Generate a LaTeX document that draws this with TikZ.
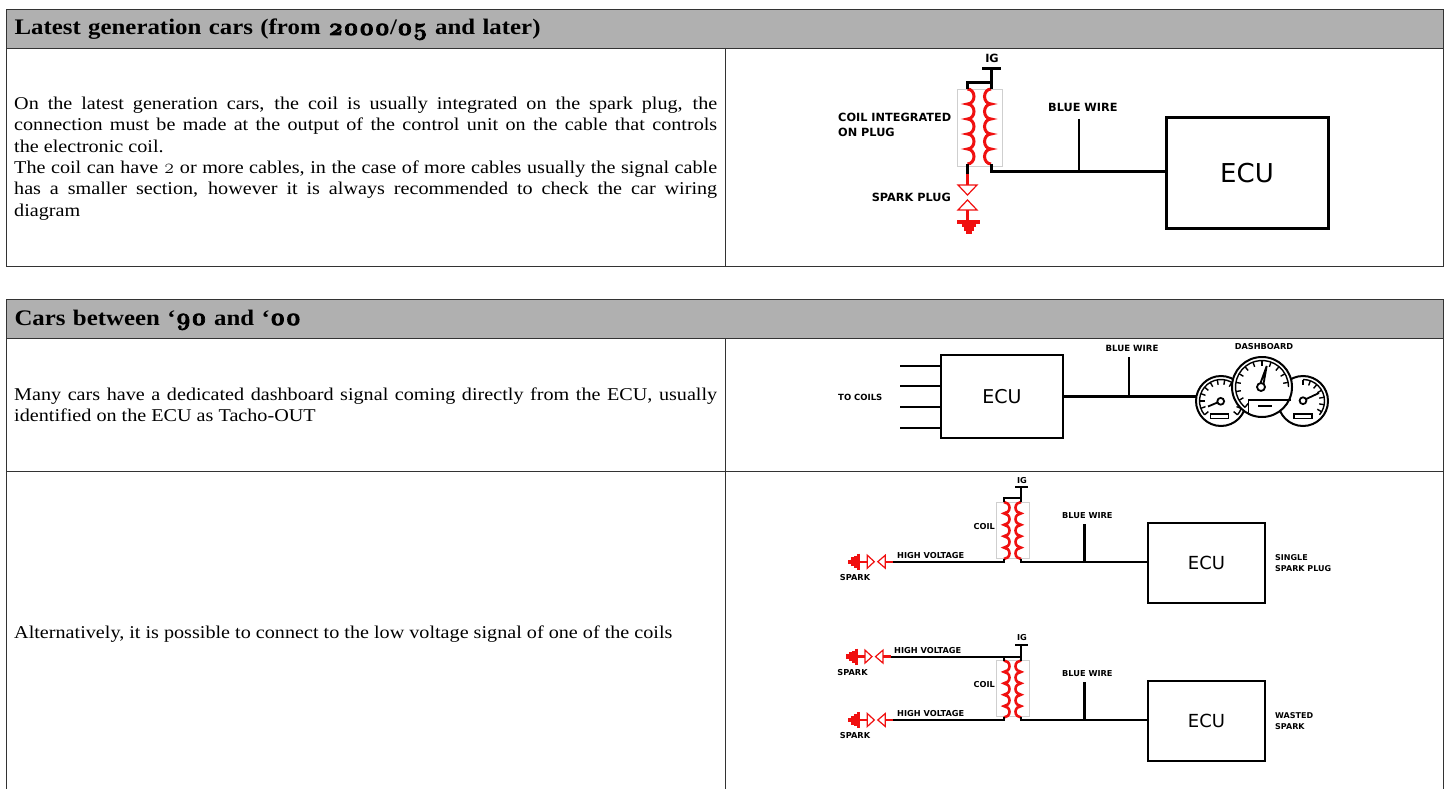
\documentclass[tikz,border=0pt]{standalone}
\usepackage{fontspec}
\setmainfont{Liberation Serif}[FakeStretch=1.12]
\newfontfamily\labelfont{DejaVu Sans}
\newfontfamily\oldnums{Latin Modern Roman}[Numbers=OldStyle,Scale=1.12]
\newfontfamily\oldnumsbold{Latin Modern Roman}[Numbers=OldStyle,Scale=1.1,FakeBold=3]
\usetikzlibrary{calc}

\definecolor{headgray}{HTML}{B0B0B0}
\definecolor{framegray}{HTML}{333333}
\definecolor{coilred}{HTML}{F01010}
\definecolor{boxgray}{HTML}{CFCFCF}

\tikzset{
  cellframe/.style={draw=framegray,line width=0.9pt},
  headcell/.style={cellframe,fill=headgray,anchor=north west,outer sep=0pt,minimum width=1437pt,minimum height=39pt,
    text width=1421pt,text height=16.5pt,text depth=3.5pt,inner xsep=8pt,inner ysep=0pt,align=left,font=\bfseries\fontsize{22.2}{24}\selectfont},
  bodytext/.style={anchor=west,inner sep=0pt,text width=703pt,align=justify,font=\fontsize{18}{21.3}\selectfont},
  diaglabel/.style={inner sep=0pt,align=left,font=\labelfont\bfseries\linespread{1.33}\fontsize{#1}{#1}\selectfont},
  ecubox/.style={draw=black,line width=#1,outer sep=0pt,inner sep=0pt,font=\labelfont},
  wire/.style={draw=black,line width=#1},
  redwire/.style={draw=coilred,line width=#1},
  coilbox/.style={draw=boxgray,line width=0.8pt,fill=white},
}

% five humps, negative #3 turns them to the left
\newcommand{\coildown}[5]{
  \draw[redwire=#5] (#1,#2) \foreach \hump in {1,...,5}{ arc (-90:90:#3 and #4) };
}

% ground + gap lying on its side, #3 is where the red lead stops
\newcommand{\sparkgap}[3]{
  \draw[redwire=2.4pt] (#1,#2) -- ({#1+9},#2);
  \draw[redwire=1.2pt,fill=white] ({#1+9},{#2-6.5}) -- ({#1+16},#2) -- ({#1+9},{#2+6.5}) -- cycle;
  \draw[redwire=1.2pt,fill=white] ({#1+27},{#2-6.5}) -- ({#1+19.5},#2) -- ({#1+27},{#2+6.5}) -- cycle;
  \draw[redwire=2.4pt] ({#1+27},#2) -- (#3,#2);
  \draw[redwire=3pt] (#1,{#2-8}) -- (#1,{#2+8});
  \draw[redwire=3pt] ({#1-3},{#2-6}) -- ({#1-3},{#2+6});
  \draw[redwire=3pt] ({#1-6},{#2-4.5}) -- ({#1-6},{#2+4.5});
  \draw[redwire=3pt] ({#1-9},{#2-2.2}) -- ({#1-9},{#2+2.2});
}

% gauge: centre, radius, first and last angle, next tick angle
\newcommand{\gauge}[6]{
  \coordinate (#1) at (#2);
  \draw[line width=2pt,fill=white] (#1) circle (#3);
  \draw[line width=1.4pt] ($(#1)+(#4:{#3-3.5})$) arc (#4:#5:{#3-3.5});
  \foreach \tick in {#4,#6,...,#5}{
    \draw[line width=1.4pt] ($(#1)+(\tick:{#3-8.5})$) -- ($(#1)+(\tick:{#3-3.5})$);
  }
}

\begin{document}
\begin{tikzpicture}[x=1pt,y=-1pt]
\useasboundingbox (0,0) rectangle (1451,789);

% first table
\draw[cellframe] (6.5,9) rectangle (1443.5,266);
\node[headcell] (headA) at (6.5,9) {Latest generation cars (from {\oldnumsbold 2000}/{\oldnumsbold 05} and later)};
\draw[cellframe] (725,48) -- (725,266);
\node[bodytext] (textA) at (14,158.5) {On the latest generation cars, the coil is usually integrated on the spark plug, the\linebreak
connection must be made at the output of the control unit on the cable that controls\linebreak
the electronic coil.\\
The coil can have {\oldnums 2} or more cables, in the case of more cables usually the signal cable\linebreak
has a smaller section, however it is always recommended to check the car wiring\linebreak
diagram};

% second table
\draw[cellframe] (6.5,789) -- (6.5,299) -- (1443.5,299) -- (1443.5,789);
\node[headcell] (headB) at (6.5,299) {Cars between ‘{\oldnumsbold 90} and ‘{\oldnumsbold 00}};
\draw[cellframe] (725,338) -- (725,789);
\draw[cellframe] (6.5,471) -- (1443.5,471);
\node[bodytext] (textB) at (14,404.5) {Many cars have a dedicated dashboard signal coming directly from the ECU, usually\linebreak
identified on the ECU as Tacho-OUT};
\node[bodytext] (textC) at (14,634) {Alternatively, it is possible to connect to the low voltage signal of one of the coils};

% coil on plug
\draw[coilbox] (957,89) rectangle (1002,166);
\coildown{967.5}{89}{6.5}{7.5}{3pt}
\coildown{991}{89}{-6.5}{7.5}{3pt}
\coordinate (igA) at (991,68.5);
\coordinate (igAl) at (982,68.5);
\coordinate (igAr) at (1000.5,68.5);
\coordinate (topA) at (991,83);
\coordinate (topAl) at (967.5,83);
\coordinate (endA) at (991,171.5);
\coordinate (tapA) at (1079,171.5);
\coordinate (blueA) at (1079,119);
\node[ecubox=3pt,minimum width=162pt,minimum height=110pt,font=\labelfont\fontsize{26}{26}\selectfont] (ecuA) at (1247,173) {ECU};
\draw[wire=3pt] (igAl) -- (igAr);
\draw[wire=3pt] (igA) -- (991,89);
\draw[wire=3pt] (967.5,89) -- (topAl) -- (topA);
\draw[wire=3pt] (991,164) -- (endA) -- (endA -| ecuA.west);
\draw[wire=2.8pt] (blueA) -- (tapA);
\draw[wire=3pt] (967.5,164) -- (967.5,174);
\draw[redwire=3pt] (967.5,174) -- (967.5,185);
\draw[redwire=1.2pt,fill=white] (958,185) -- (977,185) -- (967.5,195) -- cycle;
\draw[redwire=1.2pt,fill=white] (958,210) -- (977,210) -- (967.5,200) -- cycle;
\draw[redwire=3pt] (967.5,210) -- (967.5,222);
\draw[redwire=3.2pt] (957,222) -- (980,222);
\draw[redwire=3.2pt] (961.5,225.5) -- (976,225.5);
\draw[redwire=3.2pt] (963.5,229) -- (974,229);
\draw[redwire=3.2pt] (966,232.5) -- (971.5,232.5);
\node[diaglabel=11.3] (labIgA) at (992,58.5) {IG};
\node[diaglabel=11.3,anchor=west] (labBlueA) at (1048,107) {BLUE WIRE};
\node[diaglabel=11.3,anchor=west] (labCoilA) at (838,125) {COIL INTEGRATED\\ON PLUG};
\node[diaglabel=11.3,anchor=east] (labSparkA) at (951,197.5) {SPARK PLUG};

% dedicated dashboard signal
\node[ecubox=2.5pt,minimum width=122pt,minimum height=83pt,font=\labelfont\fontsize{19}{19}\selectfont] (ecuB) at (1002,396.5) {ECU};
\foreach \n/\ypos in {1/366,2/386,3/407,4/428}{
  \coordinate (coilB\n) at (900,\ypos);
  \draw[wire=2.2pt] (coilB\n) -- (coilB\n -| ecuB.west);
}
\coordinate (dashIn) at (1197,396.5);
\coordinate (tapB) at (1129,396.5);
\coordinate (blueB) at (1129,357);
\draw[wire=2.2pt] (ecuB.east) -- (dashIn);
\draw[wire=2.2pt] (blueB) -- (tapB);
\gauge{gaugeL}{1221,401}{25}{140}{400}{160}
\gauge{gaugeR}{1303,401}{25}{-90}{40}{-70}
\draw[line width=1.8pt,fill=white] (1210.5,414) rectangle (1228.5,418.5);
\draw[line width=1.8pt,fill=white] (1294,414) rectangle (1312,418.5);
\draw[line width=1.8pt] (1220.7,401.3) circle (3.4);
\draw[line width=1.8pt] (1217.5,402.5) -- (1208,406.5);
\draw[line width=1.8pt] (1303,400.7) circle (3.4);
\draw[line width=1.8pt] (1306.2,399) -- (1319,393);
\gauge{gaugeM}{1262,387}{30}{130}{360}{150}
\draw[line width=1.8pt] (1248.5,415) -- (1248.5,400) -- (1291,400);
\draw[line width=1.8pt] (1258,406) -- (1272,406);
\draw[line width=1.8pt] (1261,387) circle (4);
\draw[line width=1.8pt] (1260.5,383) -- (1266.7,366) -- (1263.5,384);
\node[diaglabel=8.6] (labBlueB) at (1132,348) {BLUE WIRE};
\node[diaglabel=8.2] (labDash) at (1264,347) {DASHBOARD};
\node[diaglabel=8.5,anchor=west] (labCoilsB) at (838,397.5) {TO COILS};

% single spark plug
\draw[coilbox] (996.7,502) rectangle (1029,558);
\coildown{1004}{502}{5.5}{5.7}{2.6pt}
\coildown{1021}{502}{-5.5}{5.7}{2.6pt}
\sparkgap{858.3}{561.7}{893}
\coordinate (igC) at (1021,487.3);
\coordinate (igCl) at (1015,487.3);
\coordinate (igCr) at (1027.7,487.3);
\coordinate (topC) at (1021,498);
\coordinate (topCl) at (1004,498);
\coordinate (endCl) at (1004,561.7);
\coordinate (endCr) at (1021,561.7);
\coordinate (hvC) at (893,561.7);
\coordinate (tapC) at (1084.5,561.7);
\coordinate (blueC) at (1084.5,524);
\node[ecubox=2pt,minimum width=117pt,minimum height=80pt,font=\labelfont\fontsize{18}{18}\selectfont] (ecuC) at (1206.5,563) {ECU};
\draw[wire=2.2pt] (igCl) -- (igCr);
\draw[wire=2.2pt] (igC) -- (1021,502);
\draw[wire=2.2pt] (1004,502) -- (topCl) -- (topC);
\draw[wire=2.2pt] (hvC) -- (endCl) -- (1004,559);
\draw[wire=2.2pt] (1021,559) -- (endCr) -- (endCr -| ecuC.west);
\draw[wire=2.2pt] (blueC) -- (tapC);
\node[diaglabel=8.2] (labIgC) at (1022,480.5) {IG};
\node[diaglabel=8.2,anchor=west] (labHvC) at (897,556) {HIGH VOLTAGE};
\node[diaglabel=8.2,anchor=east] (labCoilC) at (995,527) {COIL};
\node[diaglabel=8.2] (labSparkC) at (855,578) {SPARK};
\node[diaglabel=8.2,anchor=west] (labBlueC) at (1062,515.5) {BLUE WIRE};
\node[diaglabel=8,anchor=west] (labKindC) at (1275,563) {SINGLE\\SPARK PLUG};

% wasted spark
\draw[coilbox] (996.7,660.5) rectangle (1029,716);
\coildown{1004}{660.5}{5.5}{5.7}{2.6pt}
\coildown{1021}{660.5}{-5.5}{5.7}{2.6pt}
\sparkgap{856}{656.6}{890.7}
\sparkgap{858.3}{720}{893}
\coordinate (igD) at (1021,645.3);
\coordinate (igDl) at (1015,645.3);
\coordinate (igDr) at (1027.7,645.3);
\coordinate (topD) at (1021,656.6);
\coordinate (topDl) at (1004,656.6);
\coordinate (hvD) at (890.7,656.6);
\coordinate (hvE) at (893,720);
\coordinate (endDl) at (1004,720);
\coordinate (endDr) at (1021,720);
\coordinate (tapD) at (1084.5,720);
\coordinate (blueD) at (1084.5,682);
\node[ecubox=2pt,minimum width=117pt,minimum height=80pt,font=\labelfont\fontsize{18}{18}\selectfont] (ecuD) at (1206.5,721) {ECU};
\draw[wire=2.2pt] (igDl) -- (igDr);
\draw[wire=2.2pt] (igD) -- (1021,660.5);
\draw[wire=2.2pt] (hvD) -- (topD);
\draw[wire=2.2pt] (topDl) -- (1004,660.5);
\draw[wire=2.2pt] (hvE) -- (endDl) -- (1004,717);
\draw[wire=2.2pt] (1021,717) -- (endDr) -- (endDr -| ecuD.west);
\draw[wire=2.2pt] (blueD) -- (tapD);
\node[diaglabel=8.2] (labIgD) at (1022,638) {IG};
\node[diaglabel=8.2,anchor=west] (labHvD) at (894,650.5) {HIGH VOLTAGE};
\node[diaglabel=8.2,anchor=west] (labHvE) at (897,714) {HIGH VOLTAGE};
\node[diaglabel=8.2,anchor=east] (labCoilD) at (995,685) {COIL};
\node[diaglabel=8.2] (labSparkD) at (852.5,672.5) {SPARK};
\node[diaglabel=8.2] (labSparkE) at (855,736) {SPARK};
\node[diaglabel=8.2,anchor=west] (labBlueD) at (1062,673.5) {BLUE WIRE};
\node[diaglabel=8,anchor=west] (labKindD) at (1275,721) {WASTED\\SPARK};

\end{tikzpicture}
\end{document}
